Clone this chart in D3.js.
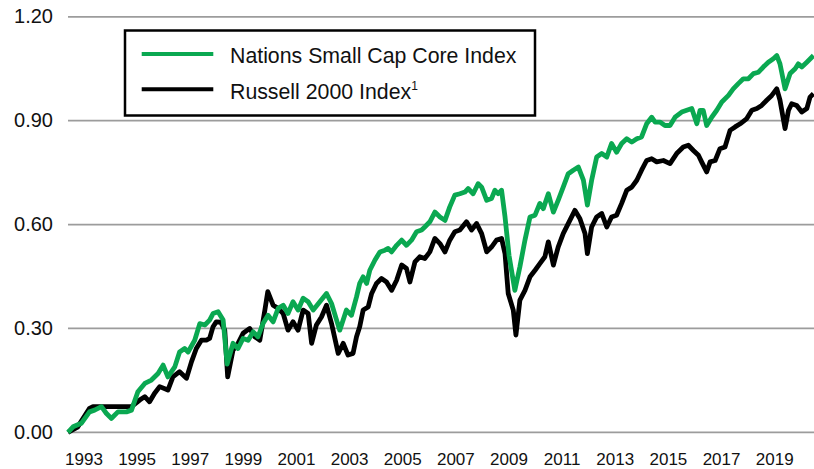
<!DOCTYPE html>
<html>
<head>
<meta charset="utf-8">
<script src="https://cdn.jsdelivr.net/npm/d3@7/dist/d3.min.js"></script>
<style>
  body { margin: 0; background: #fff; }
  svg { display: block; font-family: "Liberation Sans", Arial, sans-serif; }
</style>
</head>
<body>
<div id="chart"></div>
<script>
// values: [year, value]
const nationsSmallCap = [
  [1992.40, 0.000], [1992.59, 0.016], [1992.90, 0.026], [1993.21, 0.059], [1993.40, 0.064],
  [1993.66, 0.074], [1993.84, 0.055], [1994.03, 0.040], [1994.28, 0.059], [1994.60, 0.059],
  [1994.79, 0.064], [1995.03, 0.117], [1995.29, 0.141], [1995.54, 0.151], [1995.79, 0.170],
  [1995.98, 0.194], [1996.16, 0.160], [1996.42, 0.189], [1996.60, 0.232], [1996.79, 0.242],
  [1996.92, 0.232], [1997.17, 0.266], [1997.36, 0.314], [1997.55, 0.310], [1997.73, 0.324],
  [1997.86, 0.343], [1998.05, 0.348], [1998.24, 0.324], [1998.39, 0.197], [1998.61, 0.257],
  [1998.80, 0.242], [1998.99, 0.271], [1999.18, 0.266], [1999.37, 0.290], [1999.55, 0.276],
  [1999.74, 0.314], [1999.93, 0.338], [2000.12, 0.319], [2000.31, 0.358], [2000.50, 0.367],
  [2000.68, 0.343], [2000.87, 0.377], [2001.06, 0.353], [2001.25, 0.387], [2001.44, 0.377],
  [2001.63, 0.353], [2001.88, 0.377], [2002.13, 0.401], [2002.32, 0.372], [2002.51, 0.324],
  [2002.63, 0.295], [2002.88, 0.353], [2003.07, 0.338], [2003.26, 0.391], [2003.38, 0.430],
  [2003.51, 0.449], [2003.64, 0.430], [2003.76, 0.468], [2003.95, 0.497], [2004.14, 0.521],
  [2004.33, 0.526], [2004.45, 0.531], [2004.58, 0.521], [2004.77, 0.540], [2004.96, 0.555],
  [2005.14, 0.540], [2005.33, 0.555], [2005.52, 0.579], [2005.71, 0.584], [2005.83, 0.593],
  [2006.02, 0.608], [2006.21, 0.636], [2006.40, 0.622], [2006.59, 0.612], [2006.77, 0.651],
  [2006.96, 0.685], [2007.15, 0.689], [2007.34, 0.694], [2007.46, 0.704], [2007.65, 0.689],
  [2007.84, 0.718], [2007.97, 0.708], [2008.16, 0.670], [2008.34, 0.675], [2008.47, 0.699],
  [2008.59, 0.689], [2008.72, 0.699], [2008.85, 0.622], [2009.00, 0.511], [2009.22, 0.410],
  [2009.41, 0.478], [2009.60, 0.555], [2009.79, 0.622], [2009.98, 0.627], [2010.16, 0.661],
  [2010.29, 0.646], [2010.48, 0.689], [2010.67, 0.636], [2010.85, 0.670], [2011.04, 0.708],
  [2011.23, 0.747], [2011.42, 0.757], [2011.61, 0.766], [2011.80, 0.728], [2011.95, 0.656],
  [2012.11, 0.728], [2012.30, 0.795], [2012.49, 0.805], [2012.68, 0.795], [2012.86, 0.834],
  [2013.05, 0.809], [2013.24, 0.834], [2013.43, 0.848], [2013.62, 0.838], [2013.81, 0.848],
  [2013.99, 0.853], [2014.18, 0.891], [2014.37, 0.910], [2014.50, 0.896], [2014.68, 0.896],
  [2014.87, 0.886], [2015.06, 0.886], [2015.25, 0.910], [2015.50, 0.925], [2015.69, 0.930],
  [2015.88, 0.935], [2016.07, 0.891], [2016.19, 0.930], [2016.31, 0.930], [2016.44, 0.886],
  [2016.63, 0.910], [2016.82, 0.930], [2017.01, 0.954], [2017.26, 0.973], [2017.44, 0.992],
  [2017.63, 1.007], [2017.82, 1.021], [2018.01, 1.021], [2018.20, 1.036], [2018.39, 1.040],
  [2018.57, 1.055], [2018.76, 1.069], [2018.95, 1.079], [2019.08, 1.088], [2019.20, 1.064],
  [2019.39, 0.992], [2019.58, 1.036], [2019.77, 1.050], [2019.89, 1.064], [2020.02, 1.055],
  [2020.21, 1.069], [2020.46, 1.088]
]

const russell2000 = [
  [1992.40, 0.000], [1992.76, 0.015], [1993.21, 0.069], [1993.34, 0.074], [1994.04, 0.074],
  [1994.79, 0.074], [1995.10, 0.093], [1995.29, 0.103], [1995.47, 0.088], [1995.66, 0.113],
  [1995.85, 0.132], [1996.16, 0.122], [1996.35, 0.160], [1996.60, 0.175], [1996.86, 0.156],
  [1997.05, 0.204], [1997.23, 0.242], [1997.42, 0.266], [1997.61, 0.266], [1997.73, 0.271],
  [1997.86, 0.305], [1997.98, 0.319], [1998.15, 0.318], [1998.30, 0.295], [1998.41, 0.160],
  [1998.61, 0.237], [1998.80, 0.257], [1998.99, 0.286], [1999.24, 0.300], [1999.43, 0.276],
  [1999.62, 0.266], [1999.81, 0.353], [1999.92, 0.406], [2000.12, 0.367], [2000.31, 0.358],
  [2000.50, 0.343], [2000.68, 0.295], [2000.87, 0.319], [2001.06, 0.295], [2001.25, 0.353],
  [2001.44, 0.343], [2001.57, 0.257], [2001.75, 0.310], [2001.94, 0.333], [2002.13, 0.367],
  [2002.32, 0.314], [2002.57, 0.228], [2002.76, 0.257], [2002.94, 0.223], [2003.13, 0.228],
  [2003.26, 0.276], [2003.38, 0.305], [2003.51, 0.353], [2003.70, 0.362], [2003.83, 0.401],
  [2004.01, 0.430], [2004.20, 0.444], [2004.39, 0.434], [2004.58, 0.410], [2004.77, 0.439],
  [2004.96, 0.483], [2005.14, 0.473], [2005.27, 0.434], [2005.46, 0.492], [2005.64, 0.507],
  [2005.83, 0.502], [2006.02, 0.521], [2006.21, 0.560], [2006.40, 0.545], [2006.59, 0.521],
  [2006.77, 0.555], [2006.96, 0.579], [2007.15, 0.584], [2007.40, 0.608], [2007.59, 0.584],
  [2007.78, 0.603], [2007.97, 0.574], [2008.16, 0.521], [2008.34, 0.535], [2008.53, 0.555],
  [2008.72, 0.560], [2008.85, 0.516], [2008.97, 0.401], [2009.16, 0.353], [2009.26, 0.281],
  [2009.41, 0.382], [2009.60, 0.410], [2009.79, 0.449], [2009.98, 0.468], [2010.16, 0.487],
  [2010.35, 0.507], [2010.48, 0.550], [2010.67, 0.483], [2010.85, 0.535], [2011.04, 0.574],
  [2011.29, 0.612], [2011.48, 0.641], [2011.67, 0.617], [2011.86, 0.574], [2011.95, 0.516],
  [2012.11, 0.593], [2012.30, 0.622], [2012.49, 0.632], [2012.68, 0.593], [2012.86, 0.622],
  [2013.05, 0.627], [2013.24, 0.661], [2013.43, 0.699], [2013.62, 0.708], [2013.81, 0.728],
  [2013.99, 0.757], [2014.18, 0.785], [2014.37, 0.790], [2014.56, 0.781], [2014.81, 0.785],
  [2015.06, 0.776], [2015.31, 0.805], [2015.56, 0.824], [2015.75, 0.829], [2015.94, 0.814],
  [2016.13, 0.800], [2016.25, 0.781], [2016.44, 0.752], [2016.57, 0.781], [2016.76, 0.785],
  [2016.94, 0.819], [2017.13, 0.824], [2017.32, 0.872], [2017.51, 0.882], [2017.70, 0.891],
  [2017.95, 0.906], [2018.14, 0.930], [2018.33, 0.935], [2018.51, 0.944], [2018.70, 0.959],
  [2018.89, 0.973], [2019.08, 0.992], [2019.20, 0.959], [2019.39, 0.877], [2019.52, 0.930],
  [2019.64, 0.949], [2019.83, 0.944], [2020.02, 0.925], [2020.21, 0.935], [2020.33, 0.968],
  [2020.46, 0.978]
]

const yearTicks = [1993, 1995, 1997, 1999, 2001, 2003, 2005, 2007, 2009, 2011, 2013, 2015, 2017, 2019]
const valueTicks = [0, 0.3, 0.6, 0.9, 1.2]
const seriesNames = ['Nations Small Cap Core Index', 'Russell 2000 Index']
const seriesColors = ['#0aa851', '#000000']

const width = 814, height = 469

const svg = d3.select('#chart')
  .append('svg')
  .attr('width', width)
  .attr('height', height)

const x = d3.scaleLinear().domain([1992.40, 2020.48]).range([68, 814])
const y = d3.scaleLinear().domain([0, 1.2]).range([432.3, 16.8])

// gridlines
svg.append('g')
  .selectAll('line')
  .data(valueTicks)
  .join('line')
  .attr('x1', 68)
  .attr('x2', width)
  .attr('y1', d => y(d))
  .attr('y2', d => y(d))
  .style('stroke', '#9c9c9c')
  .style('stroke-width', 1.8)

// y labels
svg.append('g')
  .selectAll('text')
  .data(valueTicks)
  .join('text')
  .attr('x', 53)
  .attr('y', d => y(d) + 6.5)
  .style('text-anchor', 'end')
  .style('font-size', '20px')
  .style('fill', '#111')
  .text(d => d.toFixed(2))

// x labels
svg.append('g')
  .selectAll('text')
  .data(yearTicks)
  .join('text')
  .attr('x', d => x(d))
  .attr('y', 465)
  .style('text-anchor', 'middle')
  .style('font-size', '17px')
  .style('fill', '#111')
  .text(d => d)

const line = d3.line()
  .x(d => x(d[0]))
  .y(d => y(d[1]))

svg.append('path')
  .datum(russell2000)
  .attr('d', line)
  .style('fill', 'none')
  .style('stroke', seriesColors[1])
  .style('stroke-width', 4.8)
  .style('stroke-linejoin', 'round')

svg.append('path')
  .datum(nationsSmallCap)
  .attr('d', line)
  .style('fill', 'none')
  .style('stroke', seriesColors[0])
  .style('stroke-width', 4.8)
  .style('stroke-linejoin', 'round')

// legend
const legend = svg.append('g')
legend.append('rect')
  .attr('x', 125)
  .attr('y', 30.5)
  .attr('width', 410)
  .attr('height', 85)
  .style('fill', '#fff')
  .style('stroke', '#000')
  .style('stroke-width', 2.5)

seriesNames.forEach((name, i) => {
  const ly = 54 + i * 35.3
  legend.append('line')
    .attr('x1', 141.7)
    .attr('x2', 213.3)
    .attr('y1', ly)
    .attr('y2', ly)
    .style('stroke', seriesColors[i])
    .style('stroke-width', 4)
  const t = legend.append('text')
    .attr('x', 230)
    .attr('y', ly + 9.3)
    .style('font-size', '21.3px')
    .style('fill', '#111')
    .text(name)
  if (i === 1) {
    t.append('tspan')
      .attr('dy', -9)
      .style('font-size', '12px')
      .text('1')
  }
})
</script>
</body>
</html>
